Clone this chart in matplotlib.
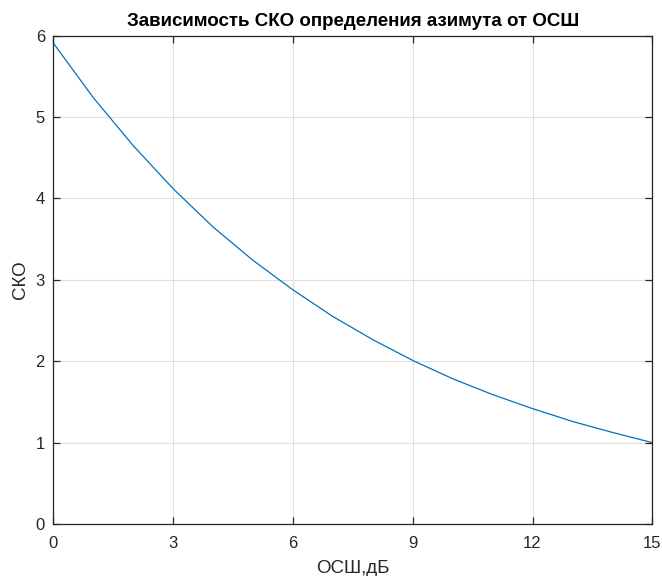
import matplotlib
matplotlib.use("Agg")
import matplotlib.pyplot as plt

# SNR grid in dB and the corresponding azimuth RMS error
snr_db = [0, 1, 2, 3, 4, 5, 6, 7, 8, 9, 10, 11, 12, 13, 14, 15]
sko = [5.91, 5.24, 4.65, 4.12, 3.65, 3.24, 2.877, 2.55, 2.265, 2.01,
       1.785, 1.59, 1.418, 1.26, 1.125, 1.0]

x_ticks = [0, 3, 6, 9, 12, 15]
y_ticks = [0, 1, 2, 3, 4, 5, 6]

title_text = "Зависимость СКО определения азимута от ОСШ"
x_label = "ОСШ,дБ"
y_label = "СКО"

plt.rcParams["font.family"] = ["Liberation Sans", "DejaVu Sans"]
text_col = "#262626"

fig = plt.figure(figsize=(6.62, 5.76), dpi=100)
ax = fig.add_axes([0.0805, 0.0903, 0.9049, 0.8477])

ax.plot(snr_db, sko, color="#0072BD", linewidth=0.9)

ax.set_xlim(0, 15)
ax.set_ylim(0, 6)
ax.set_xticks(x_ticks)
ax.set_yticks(y_ticks)

ax.grid(True, color="#dfdfdf", linewidth=0.8)
ax.set_axisbelow(True)

for s in ax.spines.values():
    s.set_color(text_col)
    s.set_linewidth(0.9)

ax.tick_params(direction="in", length=5, width=0.9, colors=text_col,
               labelsize=12, top=True, right=True)
ax.tick_params(axis="x", pad=9)
ax.tick_params(axis="y", pad=6)
for lab in ax.get_xticklabels() + ax.get_yticklabels():
    lab.set_color(text_col)

ax.set_title(title_text, fontsize=13.5, fontweight="bold", color="black", pad=7)
ax.set_xlabel(x_label, fontsize=13.5, color=text_col, labelpad=6)
ax.set_ylabel(y_label, fontsize=13.5, color=text_col, labelpad=5)

fig.savefig("out.png", dpi=100, facecolor="white")
